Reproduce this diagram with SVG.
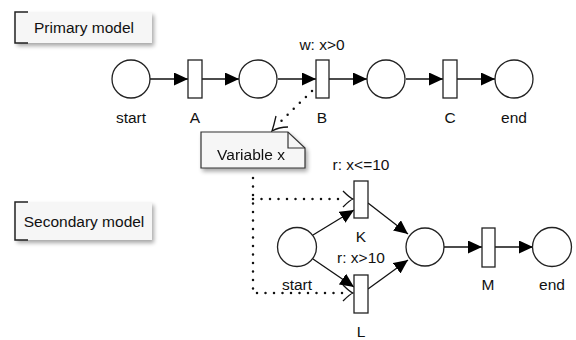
<svg xmlns="http://www.w3.org/2000/svg" width="576" height="340" viewBox="0 0 576 340">
<style>
text{font-family:"Liberation Sans",Arial,sans-serif;font-size:15.5px;fill:#111;text-anchor:middle}
.place{fill:#fff;stroke:#222;stroke-width:1.3}
.trans{fill:#fff;stroke:#222;stroke-width:1.3}
.arc{stroke:#111;stroke-width:1.3;fill:none;marker-end:url(#fa)}
.dot{stroke:#111;stroke-width:2.5;stroke-linecap:round;stroke-dasharray:0 8.5;fill:none}
.oa{stroke:#111;stroke-width:1.3;fill:none}
.lbl{fill:#f6f6f6}
</style>
<defs>
<marker id="fa" viewBox="0 0 14 13" refX="14" refY="6.5" markerWidth="14" markerHeight="13" markerUnits="userSpaceOnUse" orient="auto">
<path d="M0,0 L14,6.5 L0,13 Z" fill="#000"/>
</marker>
<filter id="sh" x="-10%" y="-20%" width="130%" height="160%">
<feGaussianBlur in="SourceAlpha" stdDeviation="2"/>
<feOffset dx="2" dy="3" result="b"/>
<feComponentTransfer><feFuncA type="linear" slope="0.35"/></feComponentTransfer>
<feMerge><feMergeNode/><feMergeNode in="SourceGraphic"/></feMerge>
</filter>
</defs>

<g id="primary-label">
<rect class="lbl" x="15" y="12" width="137" height="31" filter="url(#sh)"/>
<path d="M28,12 H15 V43 H28" stroke="#222" stroke-width="1.5" fill="none"/>
<text x="84" y="33">Primary model</text>
</g>
<g id="secondary-label">
<rect class="lbl" x="15" y="202" width="137" height="38" filter="url(#sh)"/>
<path d="M28,202 H15 V240 H28" stroke="#222" stroke-width="1.5" fill="none"/>
<text x="84" y="227">Secondary model</text>
</g>

<g id="connectors">
<line class="arc" x1="150" y1="79" x2="188" y2="79"/>
<line class="arc" x1="202" y1="79" x2="239" y2="79"/>
<line class="arc" x1="278" y1="79" x2="316" y2="79"/>
<line class="arc" x1="329" y1="79" x2="367" y2="79"/>
<line class="arc" x1="406" y1="79" x2="443" y2="79"/>
<line class="arc" x1="457" y1="79" x2="495" y2="79"/>
<line class="arc" x1="313" y1="235" x2="354" y2="210"/>
<line class="arc" x1="313" y1="259" x2="354" y2="287"/>
<line class="arc" x1="368" y1="203" x2="408" y2="234"/>
<line class="arc" x1="368" y1="289" x2="408" y2="260"/>
<line class="arc" x1="444" y1="247" x2="482" y2="247"/>
<line class="arc" x1="495" y1="247" x2="533" y2="247"/>
<path class="dot" d="M312,91 L276,126"/>
<path class="oa" d="M276,116 Q274,125 272,131 Q279,127 288,127"/>
<path class="dot" d="M253,178 V293 H345"/>
<path class="dot" d="M253,199 H345"/>
<path class="oa" d="M343,191 Q350,198 353,199 Q350,200 343,207"/>
<path class="oa" d="M343,285 Q350,292 353,293 Q350,294 343,301"/>
</g>

<g id="p-start"><circle class="place" cx="131" cy="79" r="19"/><text x="131" y="123">start</text></g>
<g id="t-A"><rect class="trans" x="188" y="60" width="14" height="38"/><text x="195" y="123">A</text></g>
<g id="p-1"><circle class="place" cx="258" cy="79" r="19"/></g>
<g id="t-B"><rect class="trans" x="316" y="60" width="13" height="38"/><text x="322" y="50">w: x&gt;0</text><text x="322" y="123">B</text></g>
<g id="p-2"><circle class="place" cx="386" cy="79" r="19"/></g>
<g id="t-C"><rect class="trans" x="443" y="60" width="14" height="38"/><text x="450" y="123">C</text></g>
<g id="p-end"><circle class="place" cx="514" cy="79" r="19"/><text x="514" y="123">end</text></g>

<g id="note" filter="url(#sh)">
<path d="M201,132 H288 L305,148 V168 H201 Z" fill="#f6f6f6" stroke="#333" stroke-width="1.2"/>
<path d="M288,132 V148 H305" fill="none" stroke="#333" stroke-width="1.2"/>
<text x="251" y="160">Variable x</text>
</g>

<g id="s-start"><circle class="place" cx="297" cy="247" r="19.5"/><text x="297" y="290">start</text></g>
<g id="t-K"><rect class="trans" x="354" y="181" width="14" height="37"/><text x="361" y="170">r: x&lt;=10</text><text x="361" y="242">K</text></g>
<g id="t-L"><rect class="trans" x="354" y="275" width="14" height="38"/><text x="361" y="263">r: x&gt;10</text><text x="361" y="337">L</text></g>
<g id="s-mid"><circle class="place" cx="425" cy="247" r="19"/></g>
<g id="t-M"><rect class="trans" x="482" y="228" width="13" height="39"/><text x="488" y="290">M</text></g>
<g id="s-end"><circle class="place" cx="552" cy="247" r="19.5"/><text x="552" y="290">end</text></g>
</svg>
